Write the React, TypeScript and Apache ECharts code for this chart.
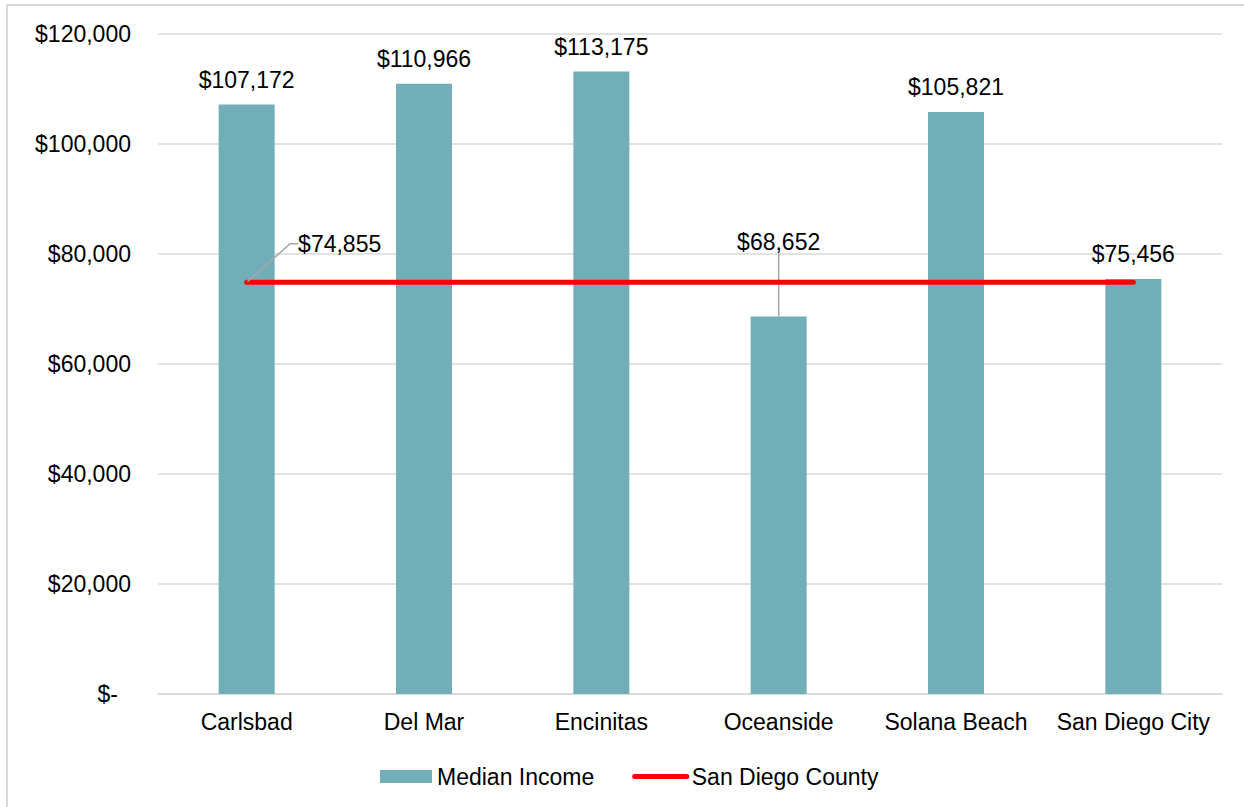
import React, { useEffect, useRef } from 'react';
import * as echarts from 'echarts';

const categories = ['Carlsbad', 'Del Mar', 'Encinitas', 'Oceanside', 'Solana Beach', 'San Diego City'];
const medianIncome = [107172, 110966, 113175, 68652, 105821, 75456];
const countyIncome = [74855, 74855, 74855, 74855, 74855, 74855];
const yMin = 0;
const yMax = 120000;
const yInterval = 20000;
const movedBarLabelIndex = 3;
const countyLabelIndex = 0;

const FONT = "'Liberation Sans', Arial, sans-serif";
const fmt = (v: number) => '$' + v.toLocaleString('en-US');

export default function App() {
  const ref = useRef<HTMLDivElement>(null);
  useEffect(() => {
    if (!ref.current) return;
    const chart = echarts.init(ref.current, undefined, { renderer: 'svg' });
    const option: any = {
      animation: false,
      backgroundColor: '#ffffff',
      textStyle: { fontFamily: FONT },
      graphic: [
        {
          type: 'rect',
          shape: { x: 7, y: 5, width: 1300, height: 900 },
          style: { fill: 'none', stroke: '#d9d9d9', lineWidth: 2 },
          silent: true,
          z: -1,
        },
      ],
      grid: { left: 158, right: 22, top: 34, bottom: 113, containLabel: false },
      legend: {
        left: 375,
        top: 760,
        itemWidth: 52,
        itemHeight: 13,
        itemGap: 38,
        textStyle: { fontSize: 23, fontFamily: FONT, color: '#000' },
        data: [
          { name: 'Median Income', icon: 'rect' },
          {
            name: 'San Diego County',
            itemStyle: { opacity: 0 },
            lineStyle: { width: 5, cap: 'round', color: '#ff0000' },
          },
        ],
      },
      xAxis: {
        type: 'category',
        data: categories,
        axisLine: { lineStyle: { color: '#d9d9d9', width: 1.5 } },
        axisTick: { show: false },
        axisLabel: { interval: 0, fontSize: 23, fontFamily: FONT, color: '#000', margin: 16 },
      },
      yAxis: {
        type: 'value',
        min: yMin,
        max: yMax,
        interval: yInterval,
        axisLine: { show: false },
        axisTick: { show: false },
        splitLine: { lineStyle: { color: '#d9d9d9', width: 1.5 } },
        axisLabel: {
          fontSize: 23,
          fontFamily: FONT,
          color: '#000',
          margin: 27,
          formatter: (v: number) => (v === 0 ? '{d|$-}' : fmt(v)),
          rich: { d: { fontSize: 23, fontFamily: FONT, color: '#000', padding: [0, 13, 0, 0] } },
        },
      },
      series: [
        {
          type: 'bar',
          name: 'Median Income',
          data: medianIncome.map((v, i) =>
            i === movedBarLabelIndex ? { value: v, labelLine: { show: true } } : v
          ),
          barWidth: 56,
          itemStyle: { color: '#72aeb8' },
          label: {
            show: true,
            position: 'top',
            distance: 13,
            fontSize: 23,
            fontFamily: FONT,
            color: '#000',
            formatter: (p: any) => fmt(p.value),
          },
          labelLine: { show: false, lineStyle: { color: '#a6a6a6', width: 1.5 } },
          labelLayout: (p: any) => (p.dataIndex === movedBarLabelIndex ? { dy: -50 } : {}),
          z: 2,
        },
        {
          type: 'line',
          name: 'San Diego County',
          data: countyIncome.map((v, i) =>
            i === countyLabelIndex
              ? { value: v, symbol: 'circle', symbolSize: 2, label: { show: true }, labelLine: { show: true } }
              : v
          ),
          symbol: 'none',
          color: '#ff0000',
          lineStyle: { color: '#ff0000', width: 5, cap: 'round' },
          itemStyle: { color: '#ff0000' },
          label: {
            show: false,
            position: 'top',
            fontSize: 23,
            fontFamily: FONT,
            color: '#000',
            formatter: (p: any) => fmt(p.value),
          },
          labelLine: { show: false, length2: 8, lineStyle: { color: '#a6a6a6', width: 1.5 } },
          labelLayout: (p: any) => (p.dataIndex === countyLabelIndex ? { dx: 93, dy: -21 } : {}),
          z: 3,
        },
      ],
    };
    chart.setOption(option);
    return () => chart.dispose();
  }, []);
  return (
    <div
      ref={ref}
      style={{ position: 'fixed', left: 0, top: 0, width: 1244, height: 807 }}
    />
  );
}
